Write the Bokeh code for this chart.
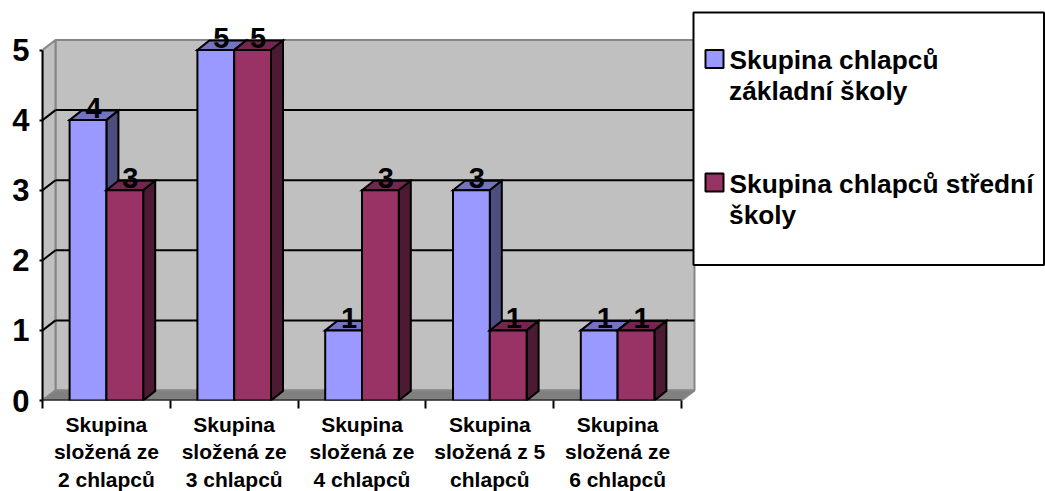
from bokeh.plotting import figure
from bokeh.models import FixedTicker, Range1d
from bokeh.core.properties import value
from bokeh.embed import file_html
from bokeh.resources import INLINE

categories = ["Skupina\nsložená ze\n2 chlapců", "Skupina\nsložená ze\n3 chlapců",
              "Skupina\nsložená ze\n4 chlapců", "Skupina\nsložená z 5\nchlapců",
              "Skupina\nsložená ze\n6 chlapců"]
zakladni = [4, 5, 1, 3, 1]
stredni = [3, 5, 3, 1, 1]
y_ticks = [0, 1, 2, 3, 4, 5]
legend_first = ["Skupina chlapců", "Skupina chlapců střední"]
legend_second = ["základní školy", "školy"]
BLUE = ("#9999FF", "#7373BF", "#4D4D80")
WINE = ("#993366", "#732650", "#4D1A33")
FONT = "Liberation Sans"

# layout (page pixels)
X0, Y0 = 42.0, 400.0
UX, UY = 127.8, 70.1
FRAME_W, FRAME_H = 1003, 400
DX, DY = 13 / UX, 10 / UY          # depth of walls
BDX, BDY = 12 / UX, 9.5 / UY       # depth of bars
BW = 36.8 / UX
N = len(categories)


def px(x):
    return (x - X0) / UX


def py(y):
    return (Y0 - y) / UY


p = figure(width=1045, height=491, frame_width=FRAME_W, frame_height=FRAME_H,
           output_backend="svg", toolbar_location=None,
           x_range=Range1d(0, FRAME_W / UX), y_range=Range1d(0, FRAME_H / UY),
           min_border_left=42, min_border_bottom=91, min_border_top=0, min_border_right=0,
           x_axis_location="below", y_axis_location="left")
p.outline_line_color = None
p.grid.visible = False
p.background_fill_color = "white"
p.border_fill_color = "white"

# axes
ya = p.yaxis[0]
ya.ticker = FixedTicker(ticks=y_ticks)
ya.bounds = (y_ticks[0], y_ticks[-1])
ya.axis_line_color = "black"
ya.axis_line_width = 2
ya.major_tick_line_color = "black"
ya.major_tick_line_width = 2
ya.major_tick_in = 0
ya.major_tick_out = 3
ya.minor_tick_line_color = None
ya.major_label_text_font = FONT
ya.major_label_text_font_style = "bold"
ya.major_label_text_font_size = "31px"
ya.major_label_text_color = "black"
ya.major_label_standoff = 10

xa = p.xaxis[0]
xa.ticker = FixedTicker(ticks=[i + 0.5 for i in range(N)], minor_ticks=list(range(N + 1)))
xa.major_label_overrides = {i + 0.5: c for i, c in enumerate(categories)}
xa.axis_line_color = None
xa.major_tick_line_color = None
xa.minor_tick_line_color = "black"
xa.minor_tick_line_width = 2
xa.minor_tick_in = 0
xa.minor_tick_out = 8
xa.major_tick_in = 0
xa.major_tick_out = 0
xa.major_label_text_font = FONT
xa.major_label_text_font_style = "bold"
xa.major_label_text_font_size = "21px"
xa.major_label_text_color = "black"
xa.major_label_text_line_height = 1.2
xa.major_label_standoff = 4
xa.major_label_orientation = "horizontal"

top = y_ticks[-1]
# walls
p.patch([DX, N + DX, N + DX, DX], [DY, DY, top + DY, top + DY], fill_color="#C0C0C0",
        line_color="#868686", line_width=2)
p.patch([0, DX, DX, 0], [0, DY, top + DY, top], fill_color="#C0C0C0",
        line_color="#868686", line_width=2)
p.patch([0, DX, N + DX, N], [0, DY, DY, 0], fill_color="#808080",
        line_color="#868686", line_width=2)

# gridlines on the walls
g = y_ticks[1:-1]
p.segment([DX] * len(g), [v + DY for v in g], [N + DX] * len(g), [v + DY for v in g],
          line_color="black", line_width=2)
p.segment([0] * len(g), g, [DX] * len(g), [v + DY for v in g], line_color="black", line_width=2)
p.segment([0], [0], [N], [0], line_color="black", line_width=2)


def bar(x, v, cols):
    kw = dict(line_color="black", line_width=2, line_join="miter")
    p.patch([x, x + BDX, x + BW + BDX, x + BW], [v, v + BDY, v + BDY, v], fill_color=cols[1], **kw)
    p.patch([x + BW, x + BW + BDX, x + BW + BDX, x + BW], [0, BDY, v + BDY, v], fill_color=cols[2], **kw)
    p.patch([x, x + BW, x + BW, x], [0, 0, v, v], fill_color=cols[0], **kw)


lab_x, lab_y, lab_t = [], [], []
for i in range(N):
    for j, (vals, cols) in enumerate(((zakladni, BLUE), (stredni, WINE))):
        x = i + 0.5 - BW + j * BW
        bar(x, vals[i], cols)
        lab_x.append(x + BW / 2 + 5.5 / UX)
        lab_y.append(vals[i])
        lab_t.append(str(vals[i]))

p.text(lab_x, lab_y, text=lab_t, text_font=value(FONT), text_font_style="bold",
       text_font_size="29px", text_color="black", text_align="center", text_baseline="bottom",
       y_offset=-2)

# legend box
p.quad(left=[px(693)], right=[px(1043.5)], top=[py(12)], bottom=[py(264.5)],
       fill_color="white", line_color="black", line_width=2)
key_y = [58.5, 182]
base1 = [68, 192]
base2 = [99, 223]
for k, cols in enumerate((BLUE, WINE)):
    p.quad(left=[px(705)], right=[px(723)], top=[py(key_y[k] - 9)], bottom=[py(key_y[k] + 9)],
           fill_color=cols[0], line_color="black", line_width=2)
p.text([px(729)] * 2, [py(b) for b in base1], text=legend_first, text_font=value(FONT),
       text_font_style="bold", text_font_size="26.3px", text_color="black",
       text_align="left", text_baseline="bottom", y_offset=6)
p.text([px(728.5)] * 2, [py(b) for b in base2], text=legend_second, text_font=value(FONT),
       text_font_style="bold", text_font_size="26.3px", text_color="black",
       text_align="left", text_baseline="bottom", y_offset=6)

open("out.html", "w").write(file_html(p, INLINE))
